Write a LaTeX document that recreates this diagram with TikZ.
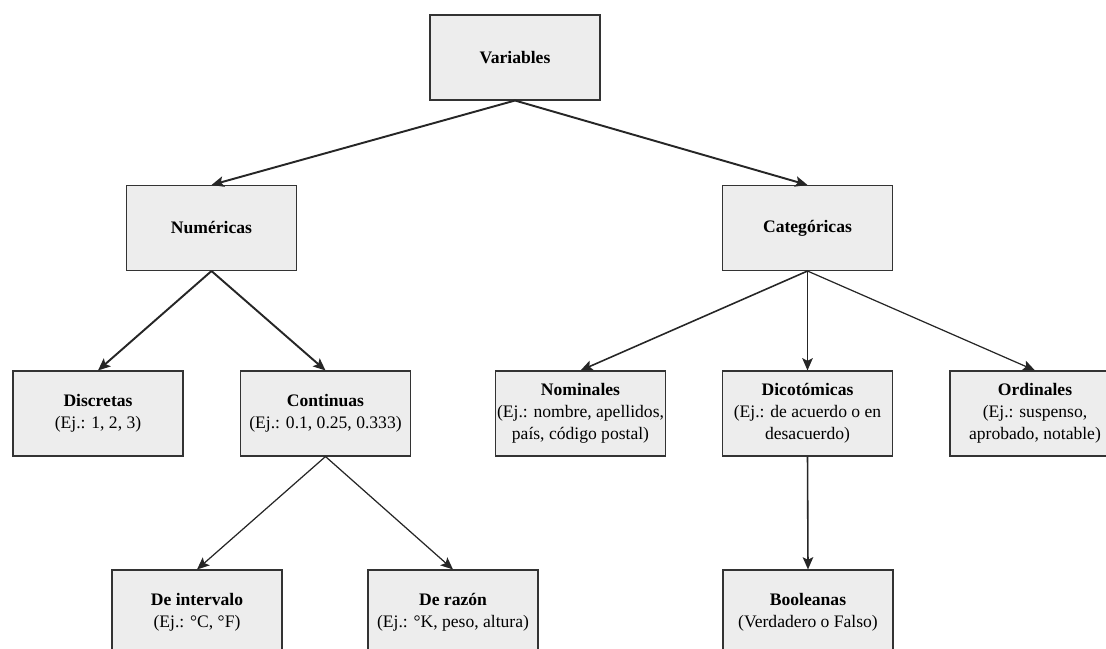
\documentclass[tikz,border=0pt]{standalone}
\usepackage{fontspec}
\setmainfont{Liberation Serif}
\usetikzlibrary{arrows.meta}

\tikzset{
	caja/.style={draw=black!80, fill=black!7, line width=0.6pt, minimum width=3.4cm, minimum height=1.7cm, inner sep=1pt, align=center, font=\fontsize{10}{12.6}\selectfont},
	flecha/.style={draw=black!85, line width=1.1pt, -{Stealth[length=7pt, width=6pt, inset=1.5pt]}},
	flechamedia/.style={draw=black!85, line width=0.9pt, -{Stealth[length=7pt, width=6pt, inset=1.5pt]}},
	flechafina/.style={draw=black!85, line width=0.7pt, -{Stealth[length=7pt, width=6pt, inset=1.5pt]}}
}

\begin{document}
\begin{tikzpicture}
		%%%%% START %%%%%
		
		\useasboundingbox (0, 0) rectangle (22.12, 12.96);
		\clip (0, 0) rectangle (22.12, 12.96);
		
		\node[caja] (variables) at (10.30, 11.81) {\textbf{Variables}};
		
		\node[caja] (numericas) at (4.23, 8.40) {\textbf{Numéricas}};
		\node[caja] (categoricas) at (16.15, 8.40) {\textbf{Categóricas}};
		
		\node[caja] (discretas) at (1.96, 4.69) {\textbf{Discretas}\\(Ej.: 1, 2, 3)};
		\node[caja] (continuas) at (6.51, 4.69) {\textbf{Continuas}\\(Ej.: 0.1, 0.25, 0.333)};
		\node[caja] (nominales) at (11.61, 4.69) {\textbf{Nominales}\\(Ej.: nombre, apellidos,\\país, código postal)};
		\node[caja] (dicotomicas) at (16.15, 4.69) {\textbf{Dicotómicas}\\(Ej.: de acuerdo o en\\desacuerdo)};
		\node[caja] (ordinales) at (20.70, 4.69) {\textbf{Ordinales}\\(Ej.: suspenso,\\aprobado, notable)};
		
		\node[caja] (intervalo) at (3.94, 0.71) {\textbf{De intervalo}\\(Ej.: °C, °F)};
		\node[caja] (razon) at (9.06, 0.71) {\textbf{De razón}\\(Ej.: °K, peso, altura)};
		\node[caja] (booleanas) at (16.16, 0.71) {\textbf{Booleanas}\\(Verdadero o Falso)};
		
		\draw[flecha] (variables.south) -- (numericas.north);
		\draw[flecha] (variables.south) -- (categoricas.north);
		
		\draw[flecha] (numericas.south) -- (discretas.north);
		\draw[flecha] (numericas.south) -- (continuas.north);
		
		\draw[flechafina] (continuas.south) -- (intervalo.north);
		\draw[flechafina] (continuas.south) -- (razon.north);
		
		\draw[flechamedia] (categoricas.south) -- (nominales.north);
		\draw[flechamedia] (categoricas.south) -- (dicotomicas.north);
		\draw[flechafina] (categoricas.south) -- (ordinales.north);
		
		\draw[flechamedia] (dicotomicas.south) -- (booleanas.north);
		
		%%%%% END %%%%%
\end{tikzpicture}
\end{document}
